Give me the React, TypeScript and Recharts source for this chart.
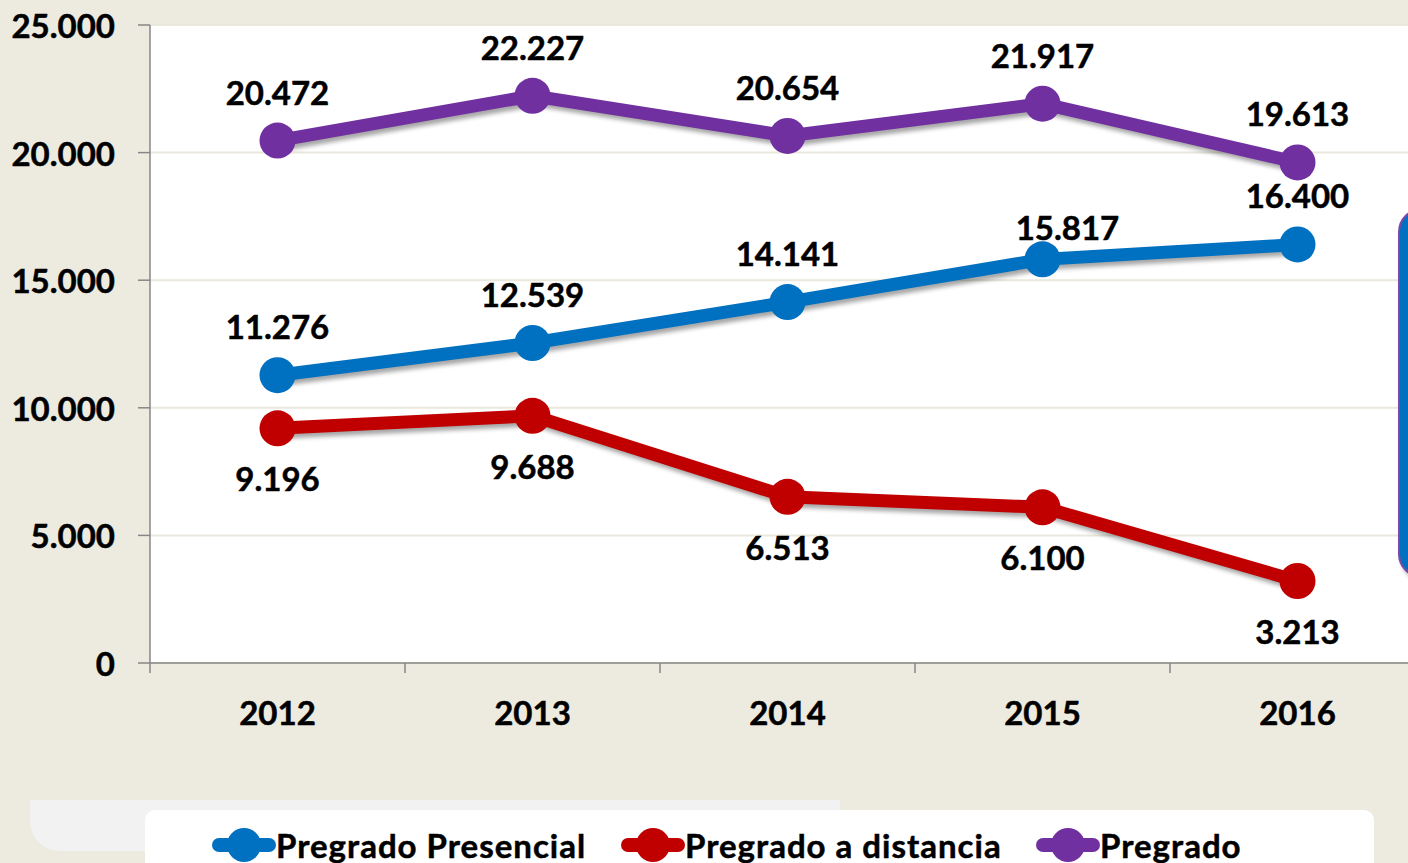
import React from 'react';
import { LineChart, Line, XAxis, YAxis, CartesianGrid, LabelList } from 'recharts';

const years = ['2012', '2013', '2014', '2015', '2016'];
const presencial = [11276, 12539, 14141, 15817, 16400];
const distancia = [9196, 9688, 6513, 6100, 3213];
const pregrado = [20472, 22227, 20654, 21917, 19613];
const yTicks = [0, 5000, 10000, 15000, 20000, 25000];

const seriesNames = ['Pregrado Presencial', 'Pregrado a distancia', 'Pregrado'];
const colors = ['#0070C0', '#C00000', '#7030A0'];

const data = years.map((year, i) => ({
  year,
  presencial: presencial[i],
  distancia: distancia[i],
  pregrado: pregrado[i],
}));

const fmt = (v: number) => String(v).replace(/\B(?=(\d{3})+(?!\d))/g, '.');

const FONT = 'Lato, "Open Sans", sans-serif';
const HALF = 127.5;
const FS = 33;

const makeLabel = (pos: 'top' | 'bottom', special?: { index: number; dx: number; dy: number }) =>
  (props: any) => {
    const { x, y, value, index } = props;
    let dx = 0;
    let dy = pos === 'top' ? -49 : 50;
    if (special && special.index === index) {
      dx = special.dx;
      dy = special.dy;
    }
    return (
      <text
        x={x + dx}
        y={y + dy}
        textAnchor="middle"
        dominantBaseline="central"
        fontFamily={FONT}
        fontWeight={700}
        fontSize={FS}
        fill="#000"
        stroke="#000"
        strokeWidth={0.5}
      >
        {fmt(value)}
      </text>
    );
  };

const XTick = (props: any) => {
  const { x, y, payload, index, visibleTicksCount } = props;
  return (
    <g>
      <line x1={x - HALF} x2={x - HALF} y1={y} y2={y + 10} stroke="#868686" strokeWidth={1.5} />
      {index === visibleTicksCount - 1 && (
        <line x1={x + HALF} x2={x + HALF} y1={y} y2={y + 10} stroke="#868686" strokeWidth={1.5} />
      )}
      <text
        x={x}
        y={y + 49}
        textAnchor="middle"
        dominantBaseline="central"
        fontFamily={FONT}
        fontWeight={700}
        fontSize={FS}
        fill="#000"
        stroke="#000"
        strokeWidth={0.5}
      >
        {payload.value}
      </text>
    </g>
  );
};

const YTick = (props: any) => {
  const { x, y, payload } = props;
  return (
    <text
      x={x}
      y={y}
      textAnchor="end"
      dominantBaseline="central"
      fontFamily={FONT}
      fontWeight={700}
      fontSize={FS}
      fill="#000"
      stroke="#000"
      strokeWidth={0.5}
    >
      {fmt(payload.value)}
    </text>
  );
};

const LegendIcon = ({ color }: { color: string }) => (
  <svg width={64} height={40} style={{ display: 'block' }}>
    <line x1={7} y1={20} x2={57} y2={20} stroke={color} strokeWidth={14} strokeLinecap="round" />
    <circle cx={32} cy={20} r={17} fill={color} />
  </svg>
);

export default function App() {
  return (
    <div
      style={{
        position: 'fixed',
        left: 0,
        top: 0,
        width: 1408,
        height: 863,
        overflow: 'hidden',
        background: '#EDEBE0',
        fontFamily: FONT,
      }}
    >
      <style>{`
        .shadowed .recharts-line-curve, .shadowed .recharts-line-dots {
          filter: drop-shadow(3px 4px 2px rgba(0,0,0,0.35));
        }
      `}</style>
      {/* decorative background shapes */}
      <div
        style={{
          position: 'absolute',
          left: 30,
          top: 800,
          width: 810,
          height: 51,
          background: '#F2F2F2',
          borderBottomLeftRadius: 30,
        }}
      />
      <div
        style={{
          position: 'absolute',
          left: 145,
          top: 810,
          width: 1229,
          height: 70,
          background: '#FFFFFF',
          borderRadius: 10,
        }}
      />
      <div style={{ position: 'absolute', left: 0, top: 0 }}>
        <LineChart
          width={1440}
          height={863}
          data={data}
          margin={{ top: 25, right: 15, left: 0, bottom: 140 }}
        >
          <CartesianGrid vertical={false} fill="#FFFFFF" stroke="#EAE8DC" strokeWidth={2} />
          <XAxis
            dataKey="year"
            padding={{ left: HALF, right: HALF }}
            height={60}
            tickLine={false}
            tickSize={0}
            tickMargin={0}
            axisLine={{ stroke: '#868686', strokeWidth: 1.5 }}
            tick={<XTick />}
            interval={0}
          />
          <YAxis
            width={150}
            domain={[0, 25000]}
            ticks={yTicks}
            interval={0}
            tickSize={12}
            tickMargin={23}
            axisLine={{ stroke: '#868686', strokeWidth: 1.5 }}
            tickLine={{ stroke: '#868686', strokeWidth: 1.5 }}
            tick={<YTick />}
          />
          <Line
            className="shadowed"
            dataKey="pregrado"
            name={seriesNames[2]}
            stroke={colors[2]}
            strokeWidth={13}
            dot={{ r: 18, fill: colors[2], stroke: 'none' }}
            activeDot={false}
            isAnimationActive={false}
          >
            <LabelList dataKey="pregrado" content={makeLabel('top')} />
          </Line>
          <Line
            className="shadowed"
            dataKey="presencial"
            name={seriesNames[0]}
            stroke={colors[0]}
            strokeWidth={13}
            dot={{ r: 18, fill: colors[0], stroke: 'none' }}
            activeDot={false}
            isAnimationActive={false}
          >
            <LabelList dataKey="presencial" content={makeLabel('top', { index: 3, dx: 25, dy: -32 })} />
          </Line>
          <Line
            className="shadowed"
            dataKey="distancia"
            name={seriesNames[1]}
            stroke={colors[1]}
            strokeWidth={13}
            dot={{ r: 18, fill: colors[1], stroke: 'none' }}
            activeDot={false}
            isAnimationActive={false}
          >
            <LabelList dataKey="distancia" content={makeLabel('bottom')} />
          </Line>
        </LineChart>
      </div>
      {/* partially visible side box */}
      <div
        style={{
          position: 'absolute',
          left: 1398,
          top: 208,
          width: 60,
          height: 370,
          background: '#0070C0',
          border: '2px solid #7A4AA8',
          borderRadius: 24,
          boxShadow: '3px 4px 4px rgba(0,0,0,0.3)',
          boxSizing: 'border-box',
        }}
      />
      {/* legend */}
      {[0, 1, 2].map((i) => {
        const lefts = [212, 621, 1036];
        return (
          <div
            key={i}
            style={{
              position: 'absolute',
              left: lefts[i],
              top: 825,
              height: 40,
              display: 'flex',
              alignItems: 'center',
              whiteSpace: 'nowrap',
            }}
          >
            <LegendIcon color={colors[i]} />
            <span
              style={{
                fontSize: 33,
                fontWeight: 700,
                color: '#000',
                lineHeight: '40px',
                letterSpacing: 1,
                WebkitTextStroke: '0.5px #000',
              }}
            >
              {seriesNames[i]}
            </span>
          </div>
        );
      })}
    </div>
  );
}
